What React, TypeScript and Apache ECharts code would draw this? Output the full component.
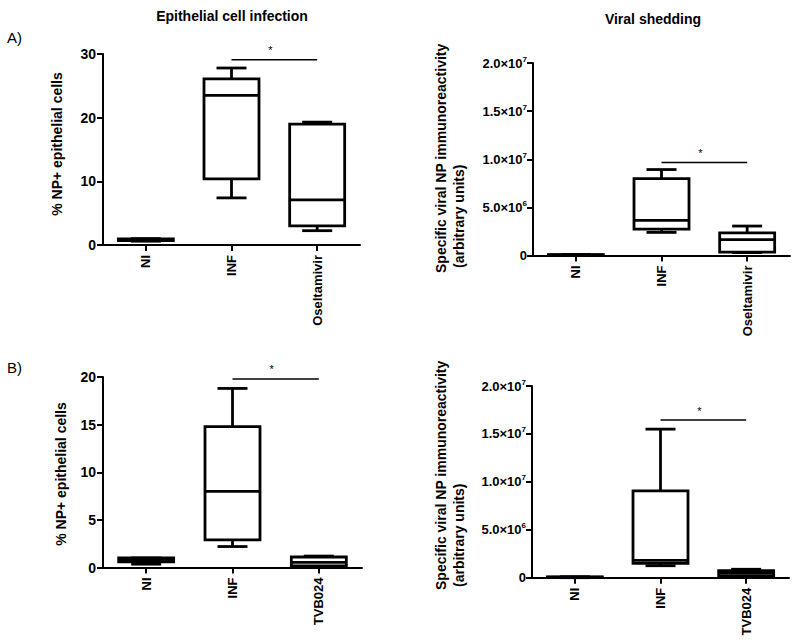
import React, { useEffect, useRef } from "react";
import * as echarts from "echarts";

// ---- data ----
const categoriesA = ["NI", "INF", "Oseltamivir"];
const categoriesB = ["NI", "INF", "TVB024"];
// [min, q1, median, q3, max]
const infectionA = [
  [0.6, 0.7, 0.8, 0.95, 1.0],
  [7.4, 10.4, 23.5, 26.1, 27.8],
  [2.25, 3.0, 7.1, 19.0, 19.3],
];
const sheddingA = [
  [0, 0.02e6, 0.05e6, 0.08e6, 0.1e6],
  [2.4e6, 2.75e6, 3.65e6, 7.99e6, 8.93e6],
  [0.3e6, 0.35e6, 1.64e6, 2.36e6, 3.06e6],
];
const infectionB = [
  [0.35, 0.6, 0.8, 1.0, 1.0],
  [2.2, 2.9, 8.0, 14.8, 18.8],
  [0.1, 0.18, 0.53, 1.1, 1.2],
];
const sheddingB = [
  [0, 0.02e6, 0.05e6, 0.08e6, 0.1e6],
  [1.25e6, 1.5e6, 1.8e6, 9.05e6, 15.5e6],
  [0.2e6, 0.21e6, 0.5e6, 0.73e6, 0.88e6],
];
// significance bars: [from category, to category, y value]
const sigA1 = [1, 2, 29.1];
const sigA2 = [1, 2, 9.66e6];
const sigB1 = [1, 2, 19.8];
const sigB2 = [1, 2, 16.45e6];

const FONT = "'Liberation Sans', Arial, sans-serif";

function sciFormatter(v: number) {
  if (v === 0) return "0";
  const e = Math.floor(Math.log10(v) + 1e-9);
  const m = v / Math.pow(10, e);
  return `{b|${m.toFixed(1)}×10}{s|${e}}`;
}

function boxRender(params: any, api: any) {
  const x = api.value(0);
  const pMin = api.coord([x, api.value(1)]);
  const pQ1 = api.coord([x, api.value(2)]);
  const pMed = api.coord([x, api.value(3)]);
  const pQ3 = api.coord([x, api.value(4)]);
  const pMax = api.coord([x, api.value(5)]);
  const bw = 55;
  const cw = 30;
  const cx = pMed[0];
  const stroke = { stroke: "#000", lineWidth: 2.8 };
  return {
    type: "group",
    children: [
      { type: "line", shape: { x1: cx, y1: pQ3[1], x2: cx, y2: pMax[1] }, style: stroke },
      { type: "line", shape: { x1: cx - cw / 2, y1: pMax[1], x2: cx + cw / 2, y2: pMax[1] }, style: stroke },
      { type: "line", shape: { x1: cx, y1: pQ1[1], x2: cx, y2: pMin[1] }, style: stroke },
      { type: "line", shape: { x1: cx - cw / 2, y1: pMin[1], x2: cx + cw / 2, y2: pMin[1] }, style: stroke },
      {
        type: "rect",
        shape: { x: cx - bw / 2, y: pQ3[1], width: bw, height: pQ1[1] - pQ3[1] },
        style: { fill: "#fff", stroke: "#000", lineWidth: 2.8 },
      },
      { type: "line", shape: { x1: cx - bw / 2, y1: pMed[1], x2: cx + bw / 2, y2: pMed[1] }, style: stroke },
    ],
  };
}

function sigRender(params: any, api: any) {
  const p1 = api.coord([api.value(0), api.value(2)]);
  const p2 = api.coord([api.value(1), api.value(2)]);
  return {
    type: "group",
    children: [
      { type: "line", shape: { x1: p1[0], y1: p1[1], x2: p2[0], y2: p2[1] }, style: { stroke: "#000", lineWidth: 1.5 } },
      {
        type: "text",
        x: (p1[0] + p2[0]) / 2 - 4,
        y: p1[1] - 4,
        style: { text: "*", fontSize: 11, fontFamily: FONT, fill: "#000", align: "center", verticalAlign: "bottom" },
      },
    ],
  };
}

export default function App() {
  const ref = useRef<HTMLDivElement>(null);
  useEffect(() => {
    if (!ref.current) return;
    const chart = echarts.init(ref.current, null, { renderer: "svg" });

    const grids = [
      { left: 103, top: 54, width: 257, height: 191 },
      { left: 533, top: 63, width: 257, height: 192.5 },
      { left: 103, top: 377, width: 259, height: 190.5 },
      { left: 532, top: 386, width: 257, height: 191.7 },
    ];
    const cats = [categoriesA, categoriesA, categoriesB, categoriesB];
    const yConf = [
      { max: 30, interval: 10, sci: false },
      { max: 2e7, interval: 5e6, sci: true },
      { max: 20, interval: 5, sci: false },
      { max: 2e7, interval: 5e6, sci: true },
    ];
    const boxes = [infectionA, sheddingA, infectionB, sheddingB];
    const sigs = [sigA1, sigA2, sigB1, sigB2];

    const axisLine = { show: true, lineStyle: { color: "#000", width: 2 } };
    const axisTick = { show: true, length: 6, lineStyle: { color: "#000", width: 2 } };

    const option: any = {
      animation: false,
      backgroundColor: "#fff",
      grid: grids.map((g) => ({ ...g, containLabel: false })),
      xAxis: cats.map((c, i) => ({
        type: "category",
        gridIndex: i,
        data: c,
        axisLine,
        axisTick: { ...axisTick, alignWithLabel: true },
        axisLabel: {
          rotate: 90,
          margin: 10,
          fontSize: 13,
          fontWeight: "bold",
          fontFamily: FONT,
          color: "#000",
        },
        splitLine: { show: false },
      })),
      yAxis: yConf.map((y, i) => ({
        type: "value",
        gridIndex: i,
        min: 0,
        max: y.max,
        interval: y.interval,
        axisLine,
        axisTick,
        splitLine: { show: false },
        axisLabel: y.sci
          ? {
              margin: 6,
              color: "#000",
              formatter: sciFormatter,
              fontSize: 13,
              fontWeight: "bold",
              fontFamily: FONT,
              rich: {
                b: { fontSize: 13, fontWeight: "bold", fontFamily: FONT, color: "#000" },
                s: { fontSize: 8, fontWeight: "bold", fontFamily: FONT, color: "#000", verticalAlign: "top", padding: [0, 0, 8, 0] },
              },
            }
          : {
              margin: 7,
              color: "#000",
              fontSize: 14,
              fontWeight: "bold",
              fontFamily: FONT,
            },
      })),
      series: [
        ...boxes.map((b, i) => ({
          type: "custom",
          xAxisIndex: i,
          yAxisIndex: i,
          renderItem: boxRender,
          encode: { x: 0, y: [1, 2, 3, 4, 5] },
          data: b.map((v, k) => [k, ...v]),
          z: 5,
        })),
        ...sigs.map((s, i) => ({
          type: "custom",
          xAxisIndex: i,
          yAxisIndex: i,
          renderItem: sigRender,
          encode: { x: [0, 1], y: 2 },
          data: [s],
          z: 6,
        })),
      ],
      graphic: [
        { type: "text", x: 232, y: 16, style: { text: "Epithelial cell infection", font: `bold 14px ${FONT}`, fill: "#000", align: "center", verticalAlign: "middle" } },
        { type: "text", x: 653, y: 19, style: { text: "Viral shedding", font: `bold 14px ${FONT}`, fill: "#000", align: "center", verticalAlign: "middle" } },
        { type: "text", x: 7, y: 37, style: { text: "A)", font: `15px ${FONT}`, fill: "#000", align: "left", verticalAlign: "middle" } },
        { type: "text", x: 7, y: 367, style: { text: "B)", font: `15px ${FONT}`, fill: "#000", align: "left", verticalAlign: "middle" } },
        { type: "text", x: 57, y: 144, rotation: Math.PI / 2, style: { text: "% NP+ epithelial cells", font: `bold 14px ${FONT}`, fill: "#000", align: "center", verticalAlign: "middle" } },
        { type: "text", x: 61, y: 474, rotation: Math.PI / 2, style: { text: "% NP+ epithelial cells", font: `bold 14px ${FONT}`, fill: "#000", align: "center", verticalAlign: "middle" } },
        { type: "text", x: 441, y: 273, rotation: Math.PI / 2, style: { text: "Specific viral NP immunoreactivity", font: `bold 14px ${FONT}`, fill: "#000", align: "left", verticalAlign: "middle" } },
        { type: "text", x: 459, y: 268, rotation: Math.PI / 2, style: { text: "(arbitrary units)", font: `bold 14px ${FONT}`, fill: "#000", align: "left", verticalAlign: "middle" } },
        { type: "text", x: 441, y: 590, rotation: Math.PI / 2, style: { text: "Specific viral NP immunoreactivity", font: `bold 14px ${FONT}`, fill: "#000", align: "left", verticalAlign: "middle" } },
        { type: "text", x: 459, y: 587, rotation: Math.PI / 2, style: { text: "(arbitrary units)", font: `bold 14px ${FONT}`, fill: "#000", align: "left", verticalAlign: "middle" } },
      ],
    };
    chart.setOption(option);
    return () => chart.dispose();
  }, []);
  return (
    <div
      ref={ref}
      style={{ position: "fixed", left: 0, top: 0, width: 800, height: 641, background: "#fff" }}
    />
  );
}
